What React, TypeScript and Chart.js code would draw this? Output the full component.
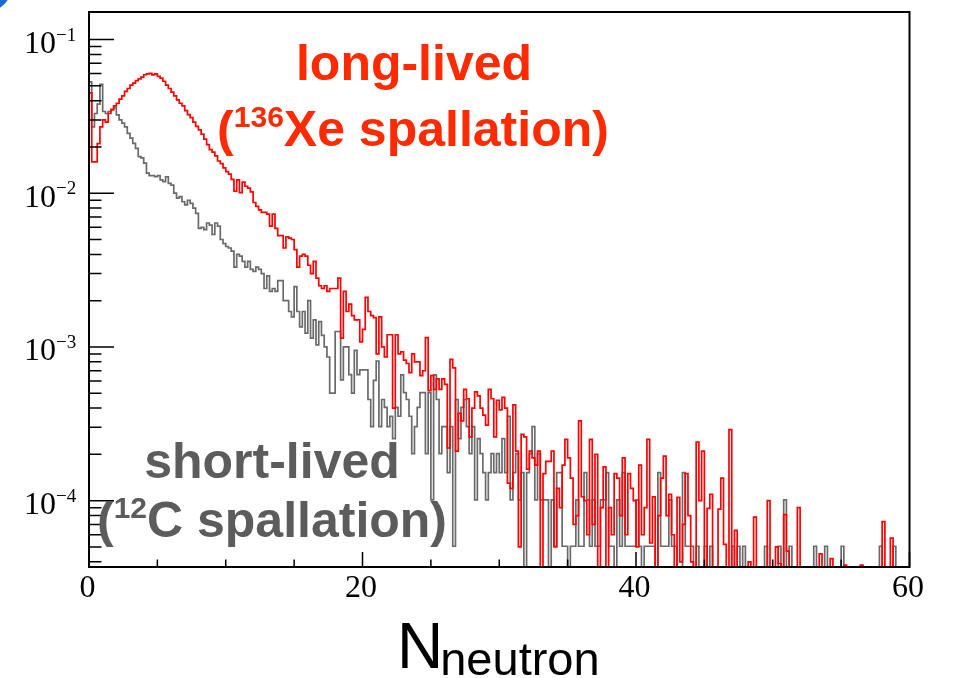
import { useEffect, useRef } from "react";
import { Chart, registerables } from "chart.js";

Chart.register(...registerables);

// Histogram binning (N_neutron, 0.2 per bin, 300 bins over 0..60)
const BIN_WIDTH = 0.2;
const X_MIN = 0;
const X_MAX = 60;
const Y_MIN = 3.7e-5;
const Y_MAX = 0.151;

const xMajorTicks = [0, 20, 40, 60];
const xMinorTicks = [5, 10, 15, 25, 30, 35, 45, 50, 55];
const yDecades = [-1, -2, -3, -4];

// long-lived: 136Xe spallation (normalized per bin)
const longLived = [
  0.045, 0.016, 0.016, 0.021, 0.027, 0.03, 0.029, 0.033, 0.035, 0.037,
  0.0385, 0.041, 0.043, 0.046, 0.048, 0.0505, 0.052, 0.054, 0.0555, 0.057,
  0.059, 0.0597, 0.0603, 0.0588, 0.0597, 0.0575, 0.056, 0.0535, 0.0505, 0.048,
  0.0455, 0.043, 0.0405, 0.0385, 0.037, 0.0345, 0.0325, 0.031, 0.029, 0.0272,
  0.0258, 0.0242, 0.0225, 0.0207, 0.0192, 0.0185, 0.0175, 0.0162, 0.0156, 0.0146,
  0.0138, 0.0133, 0.0123, 0.0103, 0.0122, 0.0101, 0.0118, 0.0111, 0.0108, 0.0102,
  0.0087, 0.0082, 0.0078, 0.0075, 0.0075, 0.0073, 0.0061, 0.0073, 0.0059, 0.0053,
  0.0053, 0.0044, 0.0052, 0.0051, 0.005, 0.0043, 0.0033, 0.0039, 0.004, 0.0039,
  0.0034, 0.003, 0.0036, 0.0028, 0.0025, 0.0024, 0.0025, 0.0023, 0.0024, 0.0024,
  0.0024, 0.0028, 0.00114, 0.0023, 0.0017, 0.0019, 0.0016, 0.0015, 0.0015, 0.00108,
  0.0013, 0.0021, 0.0017, 0.0016, 0.00155, 0.0009, 0.00157, 0.001, 0.00086, 0.0012,
  0.0012, 0.0004, 0.0012, 0.0009, 0.00093, 0.00082, 0.00078, 0.00068, 0.0009, 0.0008,
  0.0008, 0.00065, 0.0007, 0.00115, 0.00052, 0.00065, 0.00053, 0.00062, 0.00053, 0.00062,
  0.00057, 0.00022, 0.00083, 0.00073, 0.00021, 0.00037, 0.00033, 0.00053, 0.00046, 0.00026,
  0.0004, 0.00051, 0.00048, 0.0004, 0.00036, 0.00031, 0.00053, 0.00046, 0.00026, 0.00045,
  0.00039, 0.00047, 0.0004, 0.00013, 0.00012, 0.00042, 0.00021, 0.00005, 0.00027, 0.00026,
  0.00016, 0.00021, 0.00019, 0.00017, 0.00021, 0, 0.00015, 0.00018, 0.00018, 0.00021,
  0.00005, 0.00012, 0.00009, 0.00017, 0.00025, 0.00019, 0.00014, 0.00007, 0.00008, 0.00033,
  0.000106, 0.0001, 0.00006, 0.00025, 0.00007, 0.0002, 0, 0.00009, 0.000166, 0,
  0.00009, 0.00006, 0.00015, 0.00014, 0.00008, 0.00019, 0.00006, 0.00015, 0.00012, 0.0001,
  0.00005, 0.00017, 0.00006, 0.00009, 0.00025, 0.000053, 0.000106, 0, 0.00008, 0.00014,
  0.000195, 0.00008, 0.00011, 0.00006, 0, 0.000105, 0.00004, 0.00007, 0.00015, 0.00008,
  0.00004, 0, 0.00024, 0.0001, 0.00021, 0, 0.000089, 0.00011, 0, 0,
  0.000088, 0.00014, 0.000052, 0, 0.00029, 0, 0.000064, 0, 0, 0,
  0, 0.00004, 0, 0.000078, 0, 0, 0, 0, 0.0001, 0,
  0, 0.00005, 0.000039, 0, 0.000081, 0.000047, 0, 0, 0, 0.00009,
  0, 0, 0, 0, 0, 0, 0, 0.000045, 0, 0,
  0, 0.000042, 0, 0, 0, 0, 0.000038, 0, 0, 0,
  0, 0, 0.000038, 0, 0, 0, 0, 0, 0, 0,
  0.000073, 0, 0, 0.000057, 0, 0, 0, 0, 0, 0,
];

// short-lived: 12C spallation (normalized per bin)
const shortLived = [
  0.053, 0.027, 0.033, 0.038, 0.051, 0.034, 0.033, 0.034, 0.035, 0.036,
  0.0323, 0.03, 0.0286, 0.027, 0.0245, 0.0228, 0.0211, 0.0196, 0.0173, 0.017,
  0.0157, 0.0135, 0.013, 0.013, 0.0128, 0.013, 0.0122, 0.0119, 0.0128, 0.0116,
  0.0113, 0.01, 0.0093, 0.0095, 0.0088, 0.0084, 0.009, 0.0086, 0.008, 0.0074,
  0.0059, 0.006, 0.0058, 0.0064, 0.0062, 0.0054, 0.0064, 0.0061, 0.005, 0.0047,
  0.0045, 0.0044, 0.0042, 0.0033, 0.004, 0.0039, 0.0036, 0.0033, 0.0036, 0.0032,
  0.0031, 0.0033, 0.0032, 0.003, 0.0024, 0.0029, 0.0023, 0.0024, 0.0023, 0.0027,
  0.0027, 0.002, 0.002, 0.0017, 0.00157, 0.00247, 0.0017, 0.00135, 0.0017, 0.00123,
  0.002, 0.00114, 0.0015, 0.00103, 0.00146, 0.00119, 0.001, 0.00086, 0.0005, 0.0005,
  0.00126, 0.00126, 0.00061, 0.001, 0.001, 0.00066, 0.0005, 0.00095, 0.00066, 0.00071,
  0.00071, 0.00071, 4.55e-4, 3.03e-4, 6.06e-4, 8.08e-4, 3.03e-4, 4.55e-4, 4.04e-4, 3.03e-4,
  3.54e-4, 2.53e-4, 4.04e-4, 3.54e-4, 6.57e-4, 5.05e-4, 4.55e-4, 3.54e-4, 2.02e-4, 3.03e-4,
  4.04e-4, 5.05e-4, 5.05e-4, 2.02e-4, 5.05e-4, 1.01e-4, 6.57e-4, 4.55e-4, 2.02e-4, 3.03e-4,
  3.03e-4, 1.52e-4, 3.03e-4, 5.05e-5, 4.55e-4, 2.53e-4, 4.04e-4, 4.55e-4, 3.03e-4, 2.02e-4,
  3.03e-4, 1.01e-4, 2.53e-4, 2.02e-4, 1.52e-4, 1.01e-4, 1.52e-4, 2.02e-4, 1.52e-4, 2.02e-4,
  1.52e-4, 2.53e-4, 1.52e-4, 3.54e-4, 1.01e-4, 1.52e-4, 2.02e-4, 1.01e-4, 1.52e-4, 0,
  1.52e-4, 2.02e-4, 3.03e-4, 1.01e-4, 2.02e-4, 1.01e-4, 1.01e-4, 1.01e-4, 0, 1.01e-4,
  5.05e-5, 1.52e-4, 1.52e-4, 5.05e-5, 5.05e-5, 0, 5.05e-5, 5.05e-5, 1.01e-4, 5.05e-5,
  5.05e-5, 1.52e-4, 1.01e-4, 5.05e-5, 1.01e-4, 5.05e-5, 5.05e-5, 1.01e-4, 1.01e-4, 1.52e-4,
  5.05e-5, 5.05e-5, 0, 1.01e-4, 5.05e-5, 1.52e-4, 5.05e-5, 5.05e-5, 5.05e-5, 5.05e-5,
  1.01e-4, 5.05e-5, 0, 5.05e-5, 5.05e-5, 5.05e-5, 5.05e-5, 0, 1.52e-4, 5.05e-5,
  5.05e-5, 5.05e-5, 1.01e-4, 5.05e-5, 5.05e-5, 0, 0, 1.52e-4, 5.05e-5, 5.05e-5,
  5.05e-5, 0, 5.05e-5, 0, 0, 5.05e-5, 0, 5.05e-5, 0, 0,
  0, 0, 0, 0, 0, 5.05e-5, 0, 5.05e-5, 0, 5.05e-5,
  0, 0, 0, 0, 0, 0, 0, 5.05e-5, 0, 0,
  0, 0, 5.05e-5, 0, 1.01e-4, 0, 5.05e-5, 0, 0, 0,
  0, 0, 0, 0, 0, 5.05e-5, 0, 0, 0, 5.05e-5,
  0, 0, 0, 0, 0, 5.05e-5, 0, 0, 0, 0,
  0, 0, 0, 0, 0, 0, 0, 0, 0, 5.05e-5,
  0, 0, 0, 0, 5.05e-5, 0, 0, 0, 0, 0,
];

const RED_LABEL = ["long-lived", "136", "Xe spallation)"];
const GRAY_LABEL = ["short-lived", "12", "C spallation)"];

const SERIF = "'Liberation Serif', 'Times New Roman', serif";
const SANS = "'Liberation Sans', Arial, Helvetica, sans-serif";

// empty bins fall below the frame, like ROOT's outline drops to the axis
const EMPTY = 1e-8;

function stepPoints(values: number[]) {
  const pts = values.map((v, i) => ({ x: X_MIN + i * BIN_WIDTH, y: v > 0 ? v : EMPTY }));
  const last = values[values.length - 1];
  pts.push({ x: X_MAX, y: last > 0 ? last : EMPTY });
  return pts;
}

function drawSupLine(
  ctx: CanvasRenderingContext2D,
  cx: number,
  baseline: number,
  pre: string,
  sup: string,
  post: string,
  size: number,
  supSize: number,
  raise: number,
) {
  ctx.font = `bold ${size}px ${SANS}`;
  const wPre = ctx.measureText(pre).width;
  const wPost = ctx.measureText(post).width;
  ctx.font = `bold ${supSize}px ${SANS}`;
  const wSup = ctx.measureText(sup).width;
  let x = cx - (wPre + wSup + wPost) / 2;
  ctx.textAlign = "left";
  ctx.font = `bold ${size}px ${SANS}`;
  ctx.fillText(pre, x, baseline);
  x += wPre;
  ctx.font = `bold ${supSize}px ${SANS}`;
  ctx.fillText(sup, x, baseline - raise);
  x += wSup;
  ctx.font = `bold ${size}px ${SANS}`;
  ctx.fillText(post, x, baseline);
}

const rootFrame = {
  id: "rootFrame",
  afterDatasetsDraw(chart: any) {
    const { ctx, chartArea: a, scales } = chart;
    const xs = scales.x;
    const ys = scales.y;
    ctx.save();

    // frame
    ctx.strokeStyle = "#000";
    ctx.lineWidth = 2;
    ctx.strokeRect(a.left, a.top, a.right - a.left, a.bottom - a.top);

    // x ticks (inside the frame)
    ctx.lineWidth = 1.5;
    ctx.beginPath();
    for (const v of xMajorTicks) {
      const px = xs.getPixelForValue(v);
      ctx.moveTo(px, a.bottom);
      ctx.lineTo(px, a.bottom - 15);
    }
    for (const v of xMinorTicks) {
      const px = xs.getPixelForValue(v);
      ctx.moveTo(px, a.bottom);
      ctx.lineTo(px, a.bottom - 7.5);
    }
    // y ticks, decades long, 2..9 short
    for (let d = -5; d <= 0; d++) {
      for (let m = 1; m <= 9; m++) {
        const v = m * Math.pow(10, d);
        if (v < Y_MIN || v > Y_MAX) continue;
        const py = ys.getPixelForValue(v);
        ctx.moveTo(a.left, py);
        ctx.lineTo(a.left + (m === 1 ? 25 : 12.5), py);
      }
    }
    ctx.stroke();

    // x tick labels
    ctx.fillStyle = "#000";
    ctx.font = `32px ${SERIF}`;
    ctx.textAlign = "center";
    ctx.textBaseline = "alphabetic";
    for (const v of xMajorTicks) {
      ctx.fillText(String(v), xs.getPixelForValue(v) - 1.5, a.bottom + 30);
    }

    // y tick labels: 10^{d}
    for (const d of yDecades) {
      const py = ys.getPixelForValue(Math.pow(10, d));
      ctx.font = `32px ${SERIF}`;
      ctx.textAlign = "right";
      ctx.fillText("10", 56, py + 13.5);
      ctx.font = `19px ${SERIF}`;
      ctx.textAlign = "left";
      ctx.fillText("\u2212" + String(-d), 56, py + 1);
    }

    // axis title N_neutron
    ctx.textAlign = "left";
    ctx.font = `64px ${SANS}`;
    const nW = ctx.measureText("N").width;
    const titleX = 397;
    ctx.fillText("N", titleX, 668);
    ctx.font = `47px ${SANS}`;
    ctx.fillText("neutron", titleX + nW - 3, 675);

    // annotations
    ctx.fillStyle = "#ff2a00";
    ctx.font = `bold 50px ${SANS}`;
    ctx.textAlign = "center";
    ctx.fillText(RED_LABEL[0], 414, 80);
    drawSupLine(ctx, 413, 146, "(", RED_LABEL[1], RED_LABEL[2], 50, 30, 19);

    ctx.fillStyle = "#5c5c5c";
    ctx.font = `bold 50px ${SANS}`;
    ctx.textAlign = "center";
    ctx.fillText(GRAY_LABEL[0], 272, 478);
    drawSupLine(ctx, 272, 537, "(", GRAY_LABEL[1], GRAY_LABEL[2], 50, 30, 19);

    ctx.restore();
  },
};

export default function App() {
  const canvasRef = useRef<HTMLCanvasElement>(null);

  useEffect(() => {
    const canvas = canvasRef.current;
    if (!canvas) return;
    const chart = new Chart(canvas, {
      type: "line",
      data: {
        datasets: [
          {
            label: "long-lived",
            data: stepPoints(longLived),
            borderColor: "#ff0000",
            borderWidth: 1.7,
            stepped: "before",
            pointRadius: 0,
            fill: false,
          },
          {
            label: "short-lived",
            data: stepPoints(shortLived),
            borderColor: "#6a6a6a",
            borderWidth: 1.7,
            stepped: "before",
            pointRadius: 0,
            fill: false,
          },
        ],
      },
      options: {
        responsive: false,
        animation: false,
        devicePixelRatio: 1,
        parsing: false,
        normalized: true,
        layout: { padding: { left: 89, right: 954 - 909.5, top: 12, bottom: 678 - 567 } },
        plugins: { legend: { display: false }, tooltip: { enabled: false } },
        scales: {
          x: { type: "linear", min: X_MIN, max: X_MAX, display: false },
          y: { type: "logarithmic", min: Y_MIN, max: Y_MAX, display: false },
        },
      },
      plugins: [rootFrame],
    });
    return () => chart.destroy();
  }, []);

  return (
    <div style={{ position: "absolute", left: 0, top: 0, width: 954, height: 678, background: "#fff", overflow: "hidden" }}>
      <div
        style={{
          position: "absolute",
          left: -35,
          top: -35,
          width: 46,
          height: 46,
          borderRadius: "50%",
          background: "#1c6ad6",
        }}
      />
      <canvas ref={canvasRef} width={954} height={678} style={{ width: 954, height: 678, display: "block" }} />
    </div>
  );
}
